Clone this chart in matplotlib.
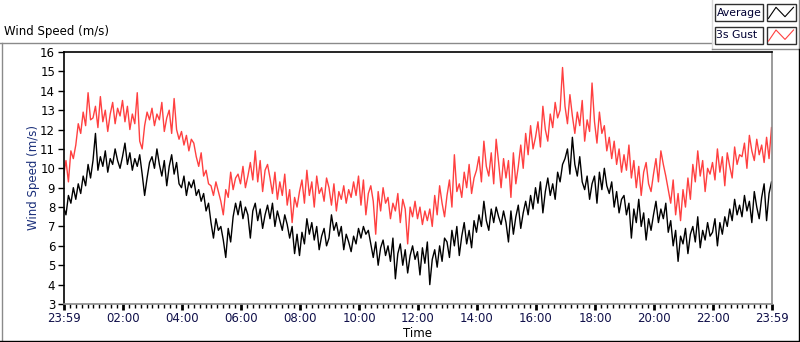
import numpy as np
import matplotlib
matplotlib.use('agg')
import matplotlib.pyplot as plt
from matplotlib.patches import Rectangle

# 5-minute samples, one row per hour, starting at 23:59
average = [
    8.0, 7.6, 8.6, 8.2, 9.0, 8.4, 9.2, 8.7, 9.6, 9.1, 10.2, 9.5,
    10.4, 11.8, 9.9, 10.6, 10.1, 10.9, 9.8, 10.5, 10.2, 11.0, 10.4, 10.0,
    10.6, 11.3, 10.2, 10.8, 9.9, 10.5, 10.1, 10.7, 9.7, 8.6, 9.5, 10.3,
    10.6, 10.0, 11.0, 10.2, 9.6, 10.4, 9.1, 10.1, 10.7, 9.7, 10.3, 9.2,
    9.0, 9.6, 8.6, 9.3, 9.0, 9.4, 8.6, 8.9, 8.3, 8.7, 7.8, 8.2,
    7.2, 6.4, 7.4, 6.8, 7.0, 6.3, 5.4, 6.9, 6.2, 7.5, 8.2, 7.6,
    8.3, 7.4, 8.0, 7.6, 6.4, 7.8, 8.2, 7.3, 7.9, 6.9, 7.6, 8.1,
    7.4, 8.2, 7.0, 7.8, 7.3, 6.8, 7.6, 7.1, 6.4, 7.0, 5.6, 6.6,
    5.5, 6.7, 6.1, 7.4, 6.6, 7.2, 6.3, 7.0, 5.8, 6.5, 6.9, 6.0,
    6.4, 7.6, 6.8, 7.2, 6.5, 7.0, 5.8, 6.6, 6.2, 5.7, 6.5, 6.1,
    6.9, 6.4, 7.0, 6.6, 6.8, 6.1, 5.4, 6.2, 5.0, 5.9, 6.3, 5.5,
    6.0, 5.2, 6.4, 4.3, 5.6, 6.1, 5.0, 5.8, 4.6, 5.5, 6.0, 5.3,
    5.7, 4.5, 5.9, 5.1, 6.2, 4.0, 5.3, 5.8, 4.9, 6.0, 5.2, 6.4,
    6.2, 5.4, 6.8, 6.0, 7.0, 5.5, 6.5, 7.2, 6.1, 6.8, 5.9, 7.3,
    6.7, 7.6, 7.0, 8.3, 7.3, 6.8, 7.9, 7.2, 8.0, 7.5, 7.1, 7.8,
    7.2, 6.2, 7.8, 6.6, 7.5, 8.1, 6.9, 7.7, 8.3, 7.6, 8.6, 7.9,
    9.0, 8.2, 9.3, 7.7, 8.8, 9.5, 8.6, 9.2, 8.4, 9.8, 9.3, 10.2,
    10.5, 11.0, 9.7, 11.6, 10.2, 9.6, 10.6, 9.3, 8.9, 9.6, 8.4, 9.2,
    9.6, 8.2, 9.8, 8.9, 10.0, 9.1, 8.7, 9.3, 8.0, 8.8, 7.7, 8.4,
    8.6, 7.6, 8.2, 6.4, 7.9, 7.2, 8.4, 7.0, 7.7, 6.3, 7.4, 6.8,
    7.6, 8.3, 7.2, 7.9, 7.4, 8.2, 6.7, 7.3, 6.0, 6.8, 5.2, 6.5,
    6.1, 6.9, 5.6, 6.6, 7.0, 6.2, 7.5, 5.9, 6.8, 6.3, 7.2, 6.5,
    6.7, 7.4, 6.0, 7.2, 6.6, 7.5, 7.0, 7.9, 7.3, 8.4, 7.6, 8.1,
    7.5, 8.6, 7.8, 8.3, 7.2, 8.8, 8.0, 7.4, 8.5, 9.2, 7.3, 8.7,
    9.3,
]

gust = [
    9.6, 10.4, 9.3, 10.9, 10.5, 11.2, 12.3, 11.8, 12.9, 12.2, 13.9, 12.5,
    12.6, 13.2, 12.1, 13.7, 12.4, 13.0, 11.9, 12.8, 13.4, 12.3, 13.1, 12.7,
    13.5, 12.4, 13.2, 12.0, 12.8, 12.3, 13.9, 11.4, 11.0, 12.2, 12.9, 12.5,
    13.1, 12.2, 12.8, 12.5, 13.4, 11.9, 12.6, 13.0, 11.8, 13.6, 12.0, 11.5,
    11.9, 11.2, 11.7, 10.9, 11.5, 11.3, 10.6, 10.1, 10.8, 9.6, 9.9, 9.2,
    9.1, 8.6, 9.3, 8.8, 8.3, 7.6, 8.9, 8.5, 9.8, 8.9, 9.5, 9.7,
    9.2, 10.1, 9.0, 9.6, 10.3, 9.4, 10.9, 9.3, 10.4, 8.8, 9.9, 10.2,
    9.5, 8.7, 9.8, 8.4, 9.3, 8.6, 9.7, 8.1, 8.9, 7.2, 8.5, 8.0,
    8.8, 9.4, 8.2, 9.9, 8.6, 9.3, 8.0, 9.6, 8.7, 9.0, 8.3, 9.5,
    9.0, 8.1, 9.2, 7.8, 8.8, 8.4, 9.1, 8.2, 8.9, 8.5, 9.3, 8.6,
    9.6, 8.1, 9.4, 7.6, 8.7, 9.1, 8.3, 6.6, 8.8, 7.8, 9.0, 8.2,
    8.5, 7.4, 8.2, 7.8, 8.7, 7.2, 8.4, 7.9, 6.1, 8.0, 7.5, 8.3,
    7.4, 8.0, 7.1, 7.8, 7.3, 7.9, 7.0, 8.6, 7.6, 9.1, 8.2, 7.5,
    8.6, 9.4, 8.0, 10.7, 8.8, 9.2, 8.5, 9.8, 9.0, 10.2, 8.7, 9.5,
    9.9, 10.6, 9.3, 11.4, 10.1, 9.6, 10.8, 9.2, 11.5, 10.3, 9.0, 10.5,
    9.5, 10.4, 8.5, 10.8, 9.2, 10.1, 11.2, 10.0, 11.8, 10.7, 12.2, 11.0,
    11.6, 12.4, 11.1, 13.2, 12.0, 11.4, 12.8, 12.1, 13.4, 12.6, 13.0, 15.2,
    13.2, 12.3, 13.8, 12.7, 11.8, 12.9, 12.2, 13.5, 11.4, 12.5, 11.9, 14.4,
    12.4, 11.3, 12.9, 11.8, 12.2, 10.9, 11.6, 10.5, 11.4, 10.2, 11.0, 9.8,
    10.7, 9.9, 11.2, 9.5, 10.4, 9.0, 10.1, 8.6, 9.8, 10.3, 9.2, 8.8,
    9.7, 10.5, 9.3, 10.9, 10.2, 9.6, 8.9, 8.2, 9.4, 7.6, 8.7, 7.3,
    8.9, 8.0, 9.5, 8.4, 10.2, 9.3, 10.9, 9.6, 10.4, 8.8, 10.0, 9.7,
    10.3, 9.4, 11.0, 9.8, 10.6, 9.1, 10.8, 10.1, 9.5, 11.1, 10.2, 10.7,
    10.6, 11.3, 10.0, 11.7, 10.9, 10.4, 11.5, 10.7, 11.2, 10.3, 11.6, 10.5,
    12.1,
]

minutes = np.arange(len(average)) * 5
tick_pos = [0, 121, 241, 361, 481, 601, 721, 841, 961, 1081, 1201, 1321, 1440]
tick_labels = ['23:59', '02:00', '04:00', '06:00', '08:00', '10:00', '12:00',
               '14:00', '16:00', '18:00', '20:00', '22:00', '23:59']

W, H = 800, 342
fig = plt.figure(figsize=(W / 100, H / 100), dpi=100)
fig.patch.set_facecolor('white')

def px(x0, y0, x1, y1):
    # pixel box (top-left origin) -> figure fraction rect
    return [x0 / W, 1 - y1 / H, (x1 - x0) / W, (y1 - y0) / H]

ax = fig.add_axes(px(63.5, 52, 771.5, 304))
ax.plot(minutes, gust, color='#ff4040', lw=1.0)
ax.plot(minutes, average, color='black', lw=1.0)
ax.set_xlim(0, 1440)
ax.set_ylim(3, 16)
ax.set_yticks(range(3, 17))
ax.set_xticks(tick_pos)
ax.set_xticklabels(tick_labels)
ax.set_xticks(np.arange(13, 1440, 12), minor=True)
ax.tick_params(axis='y', length=4, width=1, pad=2, labelsize=8.5, colors='black')
ax.tick_params(axis='x', which='major', length=4, width=2, pad=2, labelsize=8.5,
               labelcolor='#10104a')
ax.tick_params(axis='x', which='minor', length=3, width=1)
ax.spines['top'].set_color('black')
ax.spines['left'].set_color('black')
ax.spines['right'].set_color('#8a8a8a')
ax.spines['bottom'].set_color('#8a8a8a')
for s in ax.spines.values():
    s.set_linewidth(1.2)
ax.set_ylabel('Wind Speed (m/s)', color='#1a2f7a', fontsize=8.5, labelpad=0)
ax.set_xlabel('Time', fontsize=8.5, labelpad=1)

# overlay in pixel coordinates for the panel frame and legend
ov = fig.add_axes([0, 0, 1, 1])
ov.set_xlim(0, W)
ov.set_ylim(H, 0)
ov.axis('off')
ov.patch.set_alpha(0)
ov.plot([0, 712], [42.5, 42.5], color='#8a8a8a', lw=1)
ov.plot([1.5, 1.5], [42.5, 341], color='#8a8a8a', lw=1)
ov.plot([712, 712], [0, 49], color='#d8d8d8', lw=1)
ov.plot([712, 800], [49, 49], color='#8a8a8a', lw=1)
ov.plot([798.5, 798.5], [0, 49], color='#8a8a8a', lw=1)
ov.plot([798.5, 798.5], [49, 341], color='black', lw=1)
ov.plot([0, 800], [340.5, 340.5], color='black', lw=1)

fig.text(4 / W, 1 - 31 / H, 'Wind Speed (m/s)', fontsize=8.5, va='center', ha='left')

legend_names = ['Average', '3s Gust']
legend_colors = ['black', '#ff4040']
for i, (name, col) in enumerate(zip(legend_names, legend_colors)):
    top = 4 + i * 22.7
    ov.add_patch(Rectangle((715, top), 47.5, 17, fill=True, facecolor='white',
                           edgecolor='#303030', lw=1))
    ov.add_patch(Rectangle((766.5, top), 29.5, 17, fill=True, facecolor='white',
                           edgecolor='#303030', lw=1))
    ov.text(716.5, top + 8.8, name, fontsize=7.8, va='center', ha='left',
            color='#000033')
    ov.plot([768.5, 776, 785, 793.5], [top + 14.3, top + 3.3, top + 12.7, top + 3.3],
            color=col, lw=0.8)

fig.savefig('out.png', dpi=100)
